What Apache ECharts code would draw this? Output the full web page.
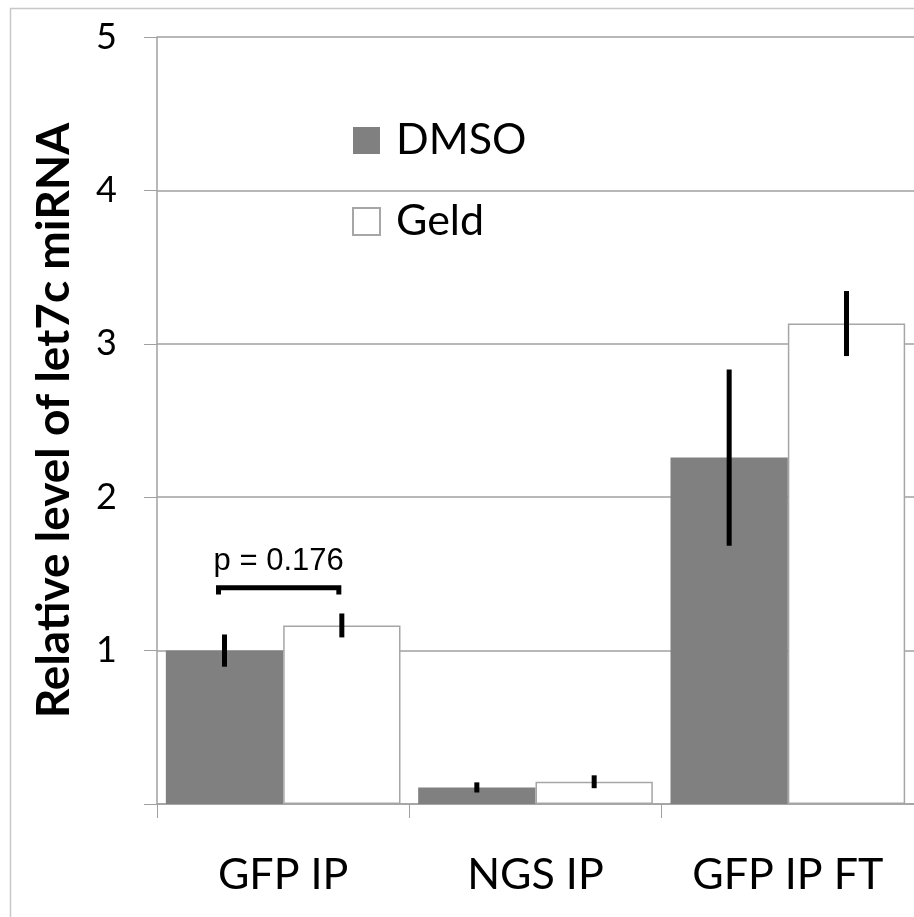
<!DOCTYPE html>
<html>
<head>
<meta charset="utf-8">
<style>
html,body{margin:0;padding:0;background:#fff;}
#chart{width:914px;height:917px;}
</style>
<script src="https://cdn.jsdelivr.net/npm/echarts@6/dist/echarts.min.js"></script>
</head>
<body>
<div id="chart"></div>
<script>
// ---- data ----
const categories = ['GFP IP', 'NGS IP', 'GFP IP FT'];
const seriesNames = ['DMSO', 'Geld'];
const dmsoValues = [1.0, 0.108, 2.258];
const dmsoErrors = [0.105, 0.033, 0.574];
const geldValues = [1.164, 0.145, 3.132];
const geldErrors = [0.078, 0.042, 0.212];
const yTicks = [0, 1, 2, 3, 4, 5];
const yTitle = 'Relative level of let7c miRNA';
const pLabel = 'p = 0.176';
const bracketCategory = 0;
const bracketLevel = 1.41;
const bracketDrop = 1.365;
const pLabelLevel = 1.58;

const chart = echarts.init(document.getElementById('chart'));
const GAP = 0.07;
const FONT = 'Lato';

function barOffset(api, s) {
  const band = api.size([1, 0])[0];
  const bw = band * (1 - GAP) / 2;
  return s === 0 ? -bw / 2 : bw / 2;
}

function errSeries(vals, errs, s) {
  return {
    type: 'custom',
    z: 10,
    silent: true,
    data: vals.map((v, i) => [i, v, errs[i]]),
    renderItem: function (params, api) {
      const i = api.value(0), v = api.value(1), e = api.value(2);
      const off = barOffset(api, s);
      const hi = api.coord([i, v + e]);
      const lo = api.coord([i, v - e]);
      return {
        type: 'line',
        shape: { x1: hi[0] + off, y1: hi[1], x2: lo[0] + off, y2: lo[1] },
        style: { stroke: '#000', lineWidth: 5 }
      };
    }
  };
}

const option = {
  animation: false,
  backgroundColor: '#fff',
  graphic: [{
    type: 'rect', left: 8, top: 6, z: -10,
    shape: { width: 1000, height: 1000 },
    style: { fill: 'none', stroke: '#c8c8c8', lineWidth: 1.5 }
  }],
  legend: {
    orient: 'vertical',
    left: 347, top: 114,
    itemWidth: 27, itemHeight: 27, itemGap: 38,
    icon: 'rect',
    data: seriesNames,
    textStyle: { fontFamily: FONT, fontSize: 43, color: '#000', lineHeight: 42, padding: [0, 0, 0, 11] }
  },
  grid: { left: 157, right: 0, top: 37, bottom: 113, containLabel: false },
  xAxis: {
    type: 'category',
    data: categories,
    axisLine: { show: true, lineStyle: { color: '#a0a0a0', width: 1.5 } },
    axisTick: { show: true, length: 14, lineStyle: { color: '#a0a0a0' } },
    axisLabel: { fontFamily: FONT, fontSize: 43, color: '#000', margin: 50 }
  },
  yAxis: {
    type: 'value',
    min: yTicks[0], max: yTicks[yTicks.length - 1], interval: 1,
    name: yTitle,
    nameLocation: 'middle',
    nameRotate: 90,
    nameGap: 80,
    nameTextStyle: { fontFamily: FONT, fontWeight: 'bold', fontSize: 46, color: '#000' },
    axisLine: { show: true, lineStyle: { color: '#a0a0a0', width: 1.5 } },
    axisTick: { show: true, length: 13, lineStyle: { color: '#a0a0a0' } },
    axisLabel: {
      fontFamily: FONT, fontSize: 36, color: '#000', margin: 40,
      formatter: v => (v === 0 ? '' : String(v))
    },
    splitLine: { show: true, lineStyle: { color: '#a0a0a0', width: 1.5 } }
  },
  series: [
    {
      name: seriesNames[0], type: 'bar', data: dmsoValues,
      barGap: '0%', barCategoryGap: (GAP * 100) + '%',
      itemStyle: { color: '#808080' }
    },
    {
      name: seriesNames[1], type: 'bar', data: geldValues,
      barGap: '0%', barCategoryGap: (GAP * 100) + '%',
      itemStyle: { color: '#ffffff', borderColor: '#a6a6a6', borderWidth: 1.5 }
    },
    errSeries(dmsoValues, dmsoErrors, 0),
    errSeries(geldValues, geldErrors, 1),
    {
      type: 'custom', z: 10, silent: true,
      data: [[bracketCategory, bracketLevel, bracketDrop, pLabelLevel]],
      renderItem: function (params, api) {
        const i = api.value(0);
        const top = api.coord([i, api.value(1)]);
        const drop = api.coord([i, api.value(2)]);
        const lab = api.coord([i, api.value(3)]);
        const x1 = top[0] + barOffset(api, 0) - 6;
        const x2 = top[0] + barOffset(api, 1) - 3;
        return {
          type: 'group',
          children: [
            {
              type: 'polyline',
              shape: { points: [[x1, drop[1]], [x1, top[1]], [x2, top[1]], [x2, drop[1]]] },
              style: { stroke: '#000', lineWidth: 5, fill: 'none' }
            },
            {
              type: 'text',
              style: {
                text: pLabel, x: (x1 + x2) / 2, y: lab[1],
                align: 'center', verticalAlign: 'middle',
                fontFamily: 'Liberation Sans', fontSize: 31, fill: '#000'
              }
            }
          ]
        };
      }
    }
  ]
};
chart.setOption(option);
</script>
</body>
</html>
